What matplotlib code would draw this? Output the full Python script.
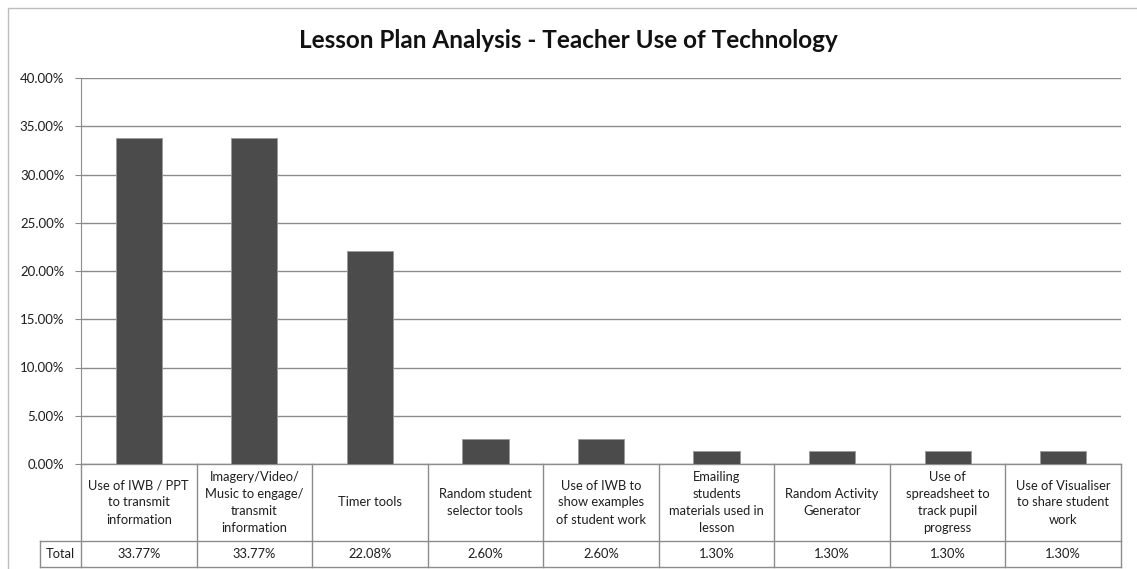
import matplotlib.pyplot as plt
import matplotlib.transforms as mtransforms
from matplotlib.patches import Rectangle
import numpy as np

plt.rcParams['font.family'] = ['Lato', 'DejaVu Sans']

# data
categories = [
    "Use of IWB / PPT\nto transmit\ninformation",
    "Imagery/Video/\nMusic to engage/\ntransmit\ninformation",
    "Timer tools",
    "Random student\nselector tools",
    "Use of IWB to\nshow examples\nof student work",
    "Emailing\nstudents\nmaterials used in\nlesson",
    "Random Activity\nGenerator",
    "Use of\nspreadsheet to\ntrack pupil\nprogress",
    "Use of Visualiser\nto share student\nwork",
]
values = [33.77, 33.77, 22.08, 2.60, 2.60, 1.30, 1.30, 1.30, 1.30]
row_label = "Total"
title = "Lesson Plan Analysis - Teacher Use of Technology"

W, H = 1137, 569
fig = plt.figure(figsize=(W / 100, H / 100), dpi=100)
ax = fig.add_axes([81 / W, (H - 464) / H, 1040 / W, 386 / H])

grid_c = "#8c8c8c"
text_c = "#1e1e1e"
fs = 9.3

# outer chart border
fig.patches.append(Rectangle((8 / W, -0.05), 1.2, (H - 8) / H + 0.05,
                             transform=fig.transFigure, fill=False,
                             edgecolor="#bdbdbd", linewidth=1.0))

x = np.arange(len(values))
ax.bar(x, values, width=0.4, color="#4b4b4b", edgecolor="#9a9a9a",
       linewidth=0.6, zorder=3)

ax.set_xlim(-0.5, len(values) - 0.5)
ax.set_ylim(0, 40)
ax.set_yticks(np.arange(0, 41, 5))
ax.set_yticklabels(["%.2f%%" % v for v in np.arange(0, 41, 5)],
                   fontsize=9.5, color=text_c)
ax.set_xticks([])
ax.yaxis.grid(True, color=grid_c, linewidth=1.0, zorder=0)
for s in ["top", "right", "bottom"]:
    ax.spines[s].set_visible(False)
ax.spines["left"].set_color(grid_c)
ax.tick_params(axis="y", length=4, color=grid_c, pad=8)

fig.text(0.5, 1 - 40 / H, title, ha="center", va="center",
         fontsize=17.5, fontweight="bold", color="#111111")

# data table below the plot
trans = mtransforms.blended_transform_factory(ax.transData, ax.transAxes)
y_head = -(541 - 464) / 386
y_tot = -(566.5 - 464) / 386
lab_left = -0.5 - (81 - 40) / (1040 / len(values))

line_kw = dict(color=grid_c, linewidth=1.0, transform=trans, clip_on=False)
ax.plot([-0.5, len(values) - 0.5], [0, 0], **line_kw)
ax.plot([lab_left, len(values) - 0.5], [y_head, y_head], **line_kw)
ax.plot([lab_left, len(values) - 0.5], [y_tot, y_tot], **line_kw)
for b in np.arange(-0.5, len(values), 1.0):
    ax.plot([b, b], [0, y_tot], **line_kw)
ax.plot([lab_left, lab_left], [y_head, y_tot], **line_kw)

for i, (c, v) in enumerate(zip(categories, values)):
    ax.text(i, y_head / 2, c, transform=trans, ha="center", va="center",
            fontsize=fs, color=text_c, linespacing=1.5)
    ax.text(i, (y_head + y_tot) / 2, "%.2f%%" % v, transform=trans,
            ha="center", va="center", fontsize=fs, color=text_c)
ax.text((lab_left - 0.5) / 2, (y_head + y_tot) / 2, row_label, transform=trans,
        ha="center", va="center", fontsize=fs, color=text_c)

fig.savefig("out.png", dpi=100)
